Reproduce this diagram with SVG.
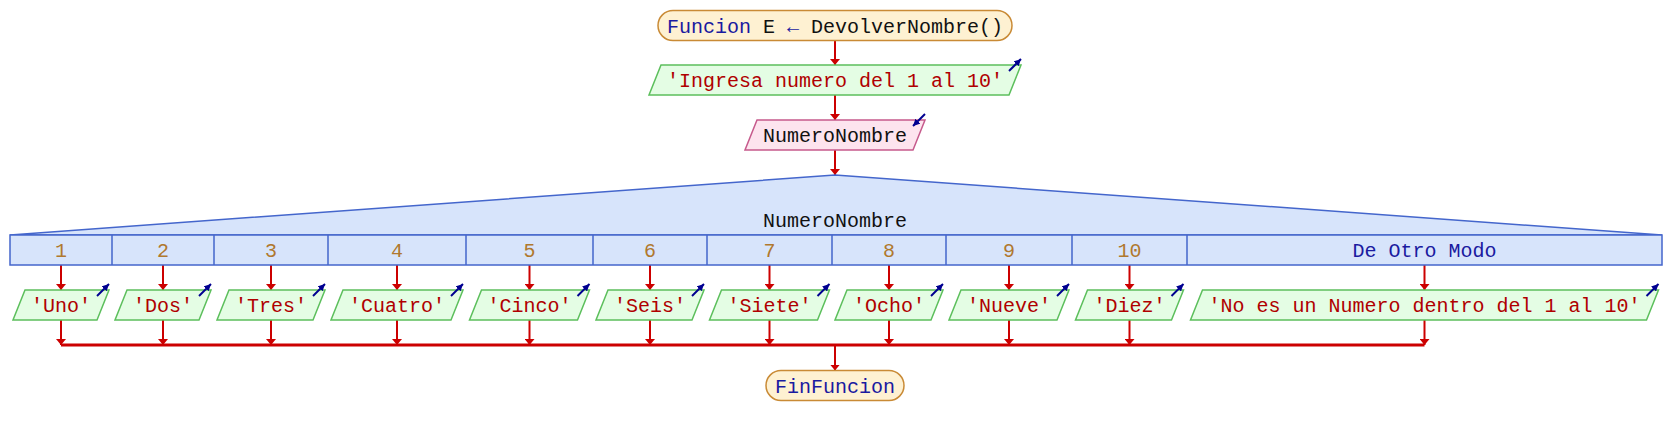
<svg xmlns="http://www.w3.org/2000/svg" width="1670" height="435" viewBox="0 0 1670 435">
<style>
text{font-family:"Liberation Mono","Courier New",monospace;font-size:20px;text-anchor:middle}
.term{fill:#fef1d2;stroke:#c98a35;stroke-width:1.5}
.out{fill:#e4fde4;stroke:#5cbf5c;stroke-width:1.5}
.inp{fill:#fde4ee;stroke:#c65a8c;stroke-width:1.5}
.sw{fill:#d7e4fb;stroke:#4466cc;stroke-width:1.5}
.ln{stroke:#cc0000;stroke-width:2;fill:none}
.ico{stroke:#000090;stroke-width:2;fill:none}
.kw{fill:#1a1aa0}
.str{fill:#b00000}
.num{fill:#b0782e}
.id{fill:#111111}
</style>
<defs>
<marker id="ah" viewBox="0 0 6 10" refX="6" refY="5" markerWidth="6" markerHeight="10" markerUnits="userSpaceOnUse" orient="auto"><path d="M0,0 L6,5 L0,10 z" fill="#cc0000"/></marker>
<marker id="ih" viewBox="0 0 7 7" refX="7" refY="3.5" markerWidth="7" markerHeight="7" markerUnits="userSpaceOnUse" orient="auto"><path d="M0,0 L7,3.5 L0,7 z" fill="#000090"/></marker>
</defs>
<g id="connectors">
<line class="ln" x1="835" y1="40.5" x2="835" y2="65" marker-end="url(#ah)"/>
<line class="ln" x1="835" y1="95" x2="835" y2="120" marker-end="url(#ah)"/>
<line class="ln" x1="835" y1="150" x2="835" y2="175" marker-end="url(#ah)"/>
<line class="ln" x1="61" y1="265" x2="61" y2="290" marker-end="url(#ah)"/>
<line class="ln" x1="163" y1="265" x2="163" y2="290" marker-end="url(#ah)"/>
<line class="ln" x1="271" y1="265" x2="271" y2="290" marker-end="url(#ah)"/>
<line class="ln" x1="397" y1="265" x2="397" y2="290" marker-end="url(#ah)"/>
<line class="ln" x1="529.5" y1="265" x2="529.5" y2="290" marker-end="url(#ah)"/>
<line class="ln" x1="650" y1="265" x2="650" y2="290" marker-end="url(#ah)"/>
<line class="ln" x1="769.5" y1="265" x2="769.5" y2="290" marker-end="url(#ah)"/>
<line class="ln" x1="889" y1="265" x2="889" y2="290" marker-end="url(#ah)"/>
<line class="ln" x1="1009" y1="265" x2="1009" y2="290" marker-end="url(#ah)"/>
<line class="ln" x1="1129.5" y1="265" x2="1129.5" y2="290" marker-end="url(#ah)"/>
<line class="ln" x1="1424.5" y1="265" x2="1424.5" y2="290" marker-end="url(#ah)"/>
<line class="ln" x1="61" y1="320" x2="61" y2="345" marker-end="url(#ah)"/>
<line class="ln" x1="163" y1="320" x2="163" y2="345" marker-end="url(#ah)"/>
<line class="ln" x1="271" y1="320" x2="271" y2="345" marker-end="url(#ah)"/>
<line class="ln" x1="397" y1="320" x2="397" y2="345" marker-end="url(#ah)"/>
<line class="ln" x1="529.5" y1="320" x2="529.5" y2="345" marker-end="url(#ah)"/>
<line class="ln" x1="650" y1="320" x2="650" y2="345" marker-end="url(#ah)"/>
<line class="ln" x1="769.5" y1="320" x2="769.5" y2="345" marker-end="url(#ah)"/>
<line class="ln" x1="889" y1="320" x2="889" y2="345" marker-end="url(#ah)"/>
<line class="ln" x1="1009" y1="320" x2="1009" y2="345" marker-end="url(#ah)"/>
<line class="ln" x1="1129.5" y1="320" x2="1129.5" y2="345" marker-end="url(#ah)"/>
<line class="ln" x1="1424.5" y1="320" x2="1424.5" y2="345" marker-end="url(#ah)"/>
<line class="ln" x1="61" y1="345" x2="1424.5" y2="345" style="stroke-width:3"/>
<line class="ln" x1="835" y1="345" x2="835" y2="370.5" marker-end="url(#ah)"/>
</g>
<g id="start">
<rect class="term" x="658" y="10.5" width="354" height="30" rx="15"/>
<text x="835" y="32.5"><tspan class="kw">Funcion</tspan><tspan class="id"> E </tspan><tspan class="kw">←</tspan><tspan class="id"> DevolverNombre()</tspan></text>
</g>
<g id="out_ingresa">
<polygon class="out" points="661,65 1021,65 1009,95 649,95"/>
<line class="ico" x1="1009" y1="71" x2="1021" y2="59" marker-end="url(#ih)"/>
<text class="str" x="835" y="87">'Ingresa numero del 1 al 10'</text>
</g>
<g id="in_numero">
<polygon class="inp" points="757,120 925,120 913,150 745,150"/>
<line class="ico" x1="925" y1="114" x2="913" y2="126" marker-end="url(#ih)"/>
<text class="id" x="835" y="142">NumeroNombre</text>
</g>
<g id="switch">
<polygon class="sw" points="10,235 835,175 1662,235"/>
<rect class="sw" x="10" y="235" width="1652" height="30"/>
<path d="M112,235V265M214,235V265M328,235V265M466,235V265M593,235V265M707,235V265M832,235V265M946,235V265M1072,235V265M1187,235V265" stroke="#4466cc" stroke-width="1.5"/>
<text class="id" x="835" y="226.5">NumeroNombre</text>
<text class="num" x="61" y="257">1</text>
<text class="num" x="163" y="257">2</text>
<text class="num" x="271" y="257">3</text>
<text class="num" x="397" y="257">4</text>
<text class="num" x="529.5" y="257">5</text>
<text class="num" x="650" y="257">6</text>
<text class="num" x="769.5" y="257">7</text>
<text class="num" x="889" y="257">8</text>
<text class="num" x="1009" y="257">9</text>
<text class="num" x="1129.5" y="257">10</text>
<text class="kw" x="1424.5" y="257">De Otro Modo</text>
</g>
<g id="out_1">
<polygon class="out" points="25,290 109,290 97,320 13,320"/>
<line class="ico" x1="97" y1="296" x2="109" y2="284" marker-end="url(#ih)"/>
<text class="str" x="61" y="312">'Uno'</text>
</g>
<g id="out_2">
<polygon class="out" points="127,290 211,290 199,320 115,320"/>
<line class="ico" x1="199" y1="296" x2="211" y2="284" marker-end="url(#ih)"/>
<text class="str" x="163" y="312">'Dos'</text>
</g>
<g id="out_3">
<polygon class="out" points="229,290 325,290 313,320 217,320"/>
<line class="ico" x1="313" y1="296" x2="325" y2="284" marker-end="url(#ih)"/>
<text class="str" x="271" y="312">'Tres'</text>
</g>
<g id="out_4">
<polygon class="out" points="343,290 463,290 451,320 331,320"/>
<line class="ico" x1="451" y1="296" x2="463" y2="284" marker-end="url(#ih)"/>
<text class="str" x="397" y="312">'Cuatro'</text>
</g>
<g id="out_5">
<polygon class="out" points="481.5,290 589.5,290 577.5,320 469.5,320"/>
<line class="ico" x1="577.5" y1="296" x2="589.5" y2="284" marker-end="url(#ih)"/>
<text class="str" x="529.5" y="312">'Cinco'</text>
</g>
<g id="out_6">
<polygon class="out" points="608,290 704,290 692,320 596,320"/>
<line class="ico" x1="692" y1="296" x2="704" y2="284" marker-end="url(#ih)"/>
<text class="str" x="650" y="312">'Seis'</text>
</g>
<g id="out_7">
<polygon class="out" points="721.5,290 829.5,290 817.5,320 709.5,320"/>
<line class="ico" x1="817.5" y1="296" x2="829.5" y2="284" marker-end="url(#ih)"/>
<text class="str" x="769.5" y="312">'Siete'</text>
</g>
<g id="out_8">
<polygon class="out" points="847,290 943,290 931,320 835,320"/>
<line class="ico" x1="931" y1="296" x2="943" y2="284" marker-end="url(#ih)"/>
<text class="str" x="889" y="312">'Ocho'</text>
</g>
<g id="out_9">
<polygon class="out" points="961,290 1069,290 1057,320 949,320"/>
<line class="ico" x1="1057" y1="296" x2="1069" y2="284" marker-end="url(#ih)"/>
<text class="str" x="1009" y="312">'Nueve'</text>
</g>
<g id="out_10">
<polygon class="out" points="1087.5,290 1183.5,290 1171.5,320 1075.5,320"/>
<line class="ico" x1="1171.5" y1="296" x2="1183.5" y2="284" marker-end="url(#ih)"/>
<text class="str" x="1129.5" y="312">'Diez'</text>
</g>
<g id="out_otro">
<polygon class="out" points="1202.5,290 1658.5,290 1646.5,320 1190.5,320"/>
<line class="ico" x1="1646.5" y1="296" x2="1658.5" y2="284" marker-end="url(#ih)"/>
<text class="str" x="1424.5" y="312">'No es un Numero dentro del 1 al 10'</text>
</g>
<g id="end">
<rect class="term" x="766" y="370.5" width="138" height="30" rx="15"/>
<text class="kw" x="835" y="392.5">FinFuncion</text>
</g>
</svg>
